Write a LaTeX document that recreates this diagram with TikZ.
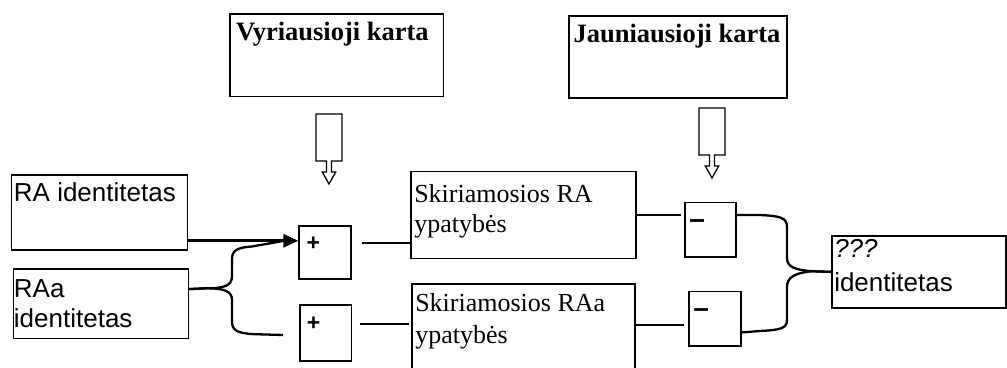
\documentclass[tikz,border=0pt]{standalone}
\usepackage{fontspec}
\setmainfont{Liberation Serif}
\setsansfont{Liberation Sans}
\usetikzlibrary{arrows.meta}

% text inside a box: width, height, first baseline, left gap, text
\newcommand{\boxtext}[5]{\parbox[t][#2][t]{#1}{\raggedright\leftskip=#4\rule{0pt}{#3}#5}}

\tikzset{
	box/.style={draw, line width=1.5pt, anchor=north west, inner sep=0pt},
	thinline/.style={line width=1.8pt},
	braceline/.style={line width=2.3pt},
	bigarrow/.style={line width=3pt, -{Triangle[length=15pt,width=13pt]}},
	hollowdown/.pic={
		\draw[line width=1.3pt] (-13,0) -- (13,0) -- (13,47) -- (2.5,47) -- (2.5,58) -- (6.7,58)
			-- (0,70) -- (-6.7,58) -- (-2.5,58) -- (-2.5,47) -- (-13,47) -- cycle;
	}
}

\begin{document}
\begin{tikzpicture}[x=1pt, y=-1pt]
\useasboundingbox (0,0) rectangle (1007,367);
% generations on top
	\node[box] (old) at (229.3,13.3) {\boxtext{213.4pt}{82.4pt}{26.7pt}{6pt}{\fontsize{26.5}{30}\selectfont\bfseries Vyriausioji karta}};
	\node[box] (young) at (568.3,15) {\boxtext{217.7pt}{82.3pt}{26.7pt}{4.5pt}{\fontsize{26.5}{30}\selectfont\bfseries Jauniausioji karta}};
	\pic at (329,114) {hollowdown};
	\pic at (712,108) {hollowdown};
% identities on the left
	\node[box] (ra) at (10.7,174) {\boxtext{176pt}{75.3pt}{26.7pt}{2.5pt}{\sffamily\fontsize{26}{30}\selectfont RA identitetas}};
	\node[box] (raa) at (12.7,268) {\boxtext{175pt}{69.7pt}{28.5pt}{0.5pt}{\sffamily\fontsize{26}{30}\selectfont RAa\\identitetas}};
% plus and minus boxes
	\node[box] (plus1) at (298.3,225) {\boxtext{51.7pt}{53.3pt}{25pt}{7.5pt}{\sffamily\fontsize{23}{24}\selectfont\bfseries +}};
	\node[box] (plus2) at (299.3,304.3) {\boxtext{51.4pt}{55.7pt}{25.7pt}{6.8pt}{\sffamily\fontsize{23}{24}\selectfont\bfseries +}};
	\node[box] (minus1) at (684,201.7) {\boxtext{51pt}{54.3pt}{26.5pt}{4.5pt}{\sffamily\fontsize{28}{30}\selectfont\bfseries \textendash}};
	\node[box] (minus2) at (688.3,290.7) {\boxtext{51.7pt}{54.3pt}{25.8pt}{4.2pt}{\sffamily\fontsize{28}{30}\selectfont\bfseries \textendash}};
% features
	\node[box] (skra) at (410,170.7) {\boxtext{225pt}{87pt}{31pt}{3.5pt}{\fontsize{26}{30}\selectfont Skiriamosios RA\\ypatybės}};
	\node[box] (skraa) at (411,283.3) {\boxtext{223pt}{92pt}{27pt}{3.5pt}{\fontsize{26}{32}\selectfont Skiriamosios RAa\\ypatybės}};
	\node[box] (out) at (831,235) {\boxtext{174pt}{72.3pt}{21.7pt}{2.5pt}{\sffamily\fontsize{26}{34}\selectfont\textit{???}\\identitetas}};
	\coordinate (gap2) at (283,335);

% connectors
	\draw[bigarrow] ([yshift=10pt]ra.south east) -- ([yshift=10pt]ra.south east -| plus1.west);
	\draw[braceline] ([yshift=14.5pt]raa.east) -- (206,288.3) .. controls (224,288.3) and (232,286) .. (232,276)
		-- (232,259) .. controls (232,250) and (238,247.5) .. (252,246.5) -- (283,241);
	\draw[braceline] ([yshift=14.5pt]raa.east) -- (206,288.3) .. controls (224,288.3) and (232,291) .. (232,300)
		-- (232,322) .. controls (232,331) and (239,333.5) .. (255,334.2) -- (gap2);
	\draw[thinline, shorten <=10pt] ([yshift=-18pt]plus1.north east) -- ([yshift=-18pt]plus1.north east -| skra.west);
	\draw[thinline, shorten <=8pt, shorten >=2pt] ([yshift=-19.7pt]plus2.north east) -- ([yshift=-19.7pt]plus2.north east -| skraa.west);
	\draw[thinline, shorten >=3pt] (skra.east) -- (skra.east -| minus1.west);
	\draw[thinline, shorten >=4pt] ([yshift=-6.65pt]minus2.west -| skraa.east) -- ([yshift=-6.65pt]minus2.west);
	\draw[braceline] ([yshift=14.5pt]minus1.east) -- (760,215) .. controls (780,216) and (787,217.5) .. (787,227)
		-- (787,258) .. controls (787,267) and (795,270) .. (812,271.2) -- (out.west);
	\draw[braceline] ([yshift=-13.85pt]minus2.east) -- (760,331) .. controls (780,330) and (787,328.5) .. (787,320)
		-- (787,287) .. controls (787,277) and (795,273) .. (812,271.2) -- (out.west);
\end{tikzpicture}
\end{document}
